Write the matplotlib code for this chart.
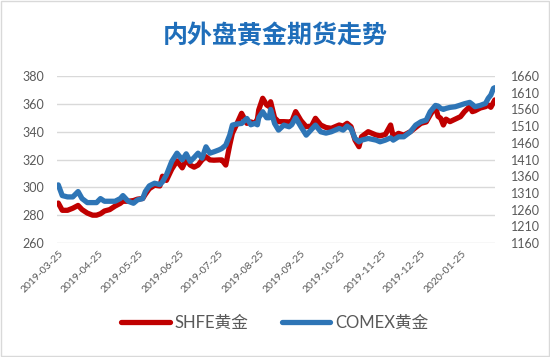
import matplotlib
matplotlib.use("Agg")
import matplotlib.pyplot as plt
import matplotlib.dates as mdates
import matplotlib.transforms as mtransforms
import pandas as pd

plt.rcParams['font.family'] = ['Lato', 'Noto Sans CJK SC', 'DejaVu Sans']

start = pd.Timestamp("2019-03-25")
# day offsets from start date
day_offset = [0, 3, 7, 11, 15, 18, 22, 26, 29, 32, 35, 39, 43, 47, 49, 53, 57, 60, 64, 66,
              69, 73, 77, 79, 82, 86, 90, 94, 97, 100, 103, 106, 109, 112, 115, 118, 122, 124, 127, 130,
              132, 135, 139, 143, 146, 149, 151, 152, 155, 158, 160, 161, 164, 167, 171, 175, 177, 180, 184, 188,
              192, 195, 199, 203, 207, 213, 216, 219, 222, 225, 228, 230, 235, 241, 244, 248, 252, 254, 258, 262,
              267, 271, 275, 279, 282, 286, 288, 290, 292, 294, 297, 301, 305, 308, 312, 314, 316, 320, 324, 326,
              328, 330, 331]

shfe = [288.7, 283.5, 283.5, 285, 287, 284, 281.5, 280, 280, 281, 283, 284, 286.5, 288.5, 290, 290, 290.5, 291.5, 292, 295,
        299, 301.5, 301, 308, 305, 313, 319, 314, 320, 316, 314.5, 316, 319.7, 322, 319.7, 319.5, 319.7, 319.7, 316, 330.4,
        338.8, 344.8, 353.2, 346, 347, 346, 349, 355.6, 364, 359.2, 358, 361.5, 350, 347.2, 347.2, 347, 347.2, 354.4, 348, 343.6,
        344, 349.6, 344.8, 343, 342.4, 344.8, 344, 346, 343.6, 334, 329.2, 336.4, 340, 337.6, 337, 338, 344.8, 336.4, 338.8, 337.5,
        340, 343, 346, 347, 352, 358, 351, 349.6, 344.8, 349, 347.2, 349, 350.8, 354.4, 358, 354.4, 355, 357, 358, 359.2,
        357.5, 361, 362.8]

comex = [1334, 1302, 1298, 1298, 1314, 1293, 1281, 1281, 1281, 1293, 1285, 1285, 1285, 1293, 1302, 1285, 1279, 1289, 1293, 1314,
         1331, 1339, 1335, 1343, 1364, 1404, 1429, 1409, 1427, 1404, 1416, 1429, 1414, 1448, 1429, 1433, 1439, 1443, 1453, 1483,
         1513, 1516, 1518, 1533, 1514, 1518, 1514, 1535, 1553, 1535, 1535, 1560, 1518, 1498, 1513, 1508, 1514, 1535, 1508, 1483,
         1500, 1513, 1493, 1489, 1493, 1503, 1498, 1510, 1502, 1473, 1463, 1468, 1473, 1468, 1463, 1468, 1475, 1468, 1478, 1478,
         1493, 1513, 1523, 1528, 1553, 1572, 1570, 1563, 1560, 1563, 1566, 1568, 1573, 1577, 1581, 1575, 1568, 1572, 1578, 1593,
         1603, 1623, 1625]

tick_dates = ["2019-03-25", "2019-04-25", "2019-05-25", "2019-06-25", "2019-07-25", "2019-08-25",
              "2019-09-25", "2019-10-25", "2019-11-25", "2019-12-25", "2020-01-25"]
left_ticks = [260, 280, 300, 320, 340, 360, 380]
right_ticks = [1160, 1210, 1260, 1310, 1360, 1410, 1460, 1510, 1560, 1610, 1660]

dates = start + pd.to_timedelta(day_offset, unit="D")

red = "#C00000"
blue = "#2E75B6"
gray = "#595959"

fig = plt.figure(figsize=(5.5, 3.57), dpi=100)
ax = fig.add_axes([0.1036, 0.3193, 0.796, 0.4678])
ax2 = ax.twinx()

ax.plot(dates, shfe, color=red, lw=3.8, solid_capstyle="round", solid_joinstyle="round", label="SHFE黄金")
ax2.plot(dates, comex, color=blue, lw=3.8, solid_capstyle="round", solid_joinstyle="round", label="COMEX黄金")

ax.set_ylim(260, 380)
ax.set_yticks(left_ticks)
ax2.set_ylim(1160, 1660)
ax2.set_yticks(right_ticks)
ax.set_xlim(start - pd.Timedelta(days=1), dates[-1])
ax.set_xticks(pd.to_datetime(tick_dates))
ax.xaxis.set_major_formatter(mdates.DateFormatter("%Y-%m-%d"))

ax.grid(axis="y", color="#D9D9D9", lw=1)
ax.set_axisbelow(True)
for a in (ax, ax2):
    for s in a.spines.values():
        s.set_visible(False)
    a.tick_params(length=0, colors=gray, labelsize=9)
ax.tick_params(axis="y", pad=9)
ax2.tick_params(axis="y", pad=12)
shift = mtransforms.ScaledTranslation(5 / 100, 0, fig.dpi_scale_trans)
for lbl in ax.get_xticklabels():
    lbl.set_rotation(45)
    lbl.set_ha("right")
    lbl.set_rotation_mode("anchor")
    lbl.set_fontsize(7.5)
    lbl.set_transform(lbl.get_transform() + shift)
ax.tick_params(axis="x", pad=4)

fig.suptitle("内外盘黄金期货走势", x=0.5, y=0.935, fontsize=18, fontweight="bold", color="#1F6EBA")

h1, l1 = ax.get_legend_handles_labels()
h2, l2 = ax2.get_legend_handles_labels()
fig.legend(h1 + h2, l1 + l2, loc="center", bbox_to_anchor=(0.5, 0.095), ncol=2, frameon=False,
           fontsize=12, handlelength=2.9, columnspacing=2.0, handletextpad=0.3, labelcolor=gray)

fig.patches.append(plt.Rectangle((0.002, 0.003), 0.996, 0.994, transform=fig.transFigure,
                                 fill=False, edgecolor="#D9D9D9", lw=1))

fig.savefig("out.png", dpi=100)
